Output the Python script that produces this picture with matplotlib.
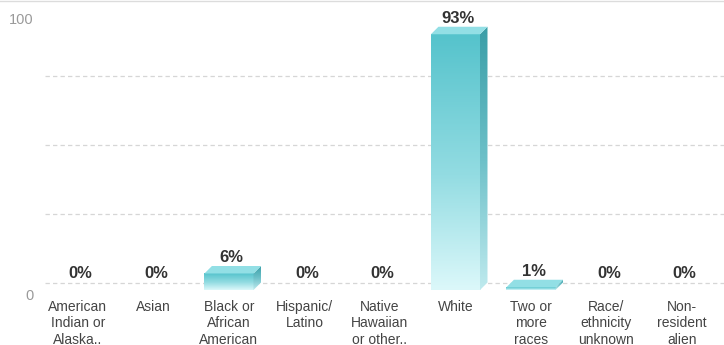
import numpy as np
import matplotlib
matplotlib.use("Agg")
import matplotlib.pyplot as plt
from matplotlib.colors import LinearSegmentedColormap
from matplotlib.patches import Polygon
from matplotlib.lines import Line2D
from matplotlib.transforms import offset_copy, ScaledTranslation

# ---- data ----
categories = [
    "American\nIndian or\nAlaska..",
    "Asian",
    "Black or\nAfrican\nAmerican",
    "Hispanic/\nLatino",
    "Native\nHawaiian\nor other..",
    "White",
    "Two or\nmore\nraces",
    "Race/\nethnicity\nunknown",
    "Non-\nresident\nalien",
]
values = [0, 0, 6, 0, 0, 93, 1, 0, 0]
value_labels = [f"{v}%" for v in values]
y_ticks = [0, 100]
grid_levels = [0, 25, 50, 75]

# ---- style ----
DPI = 100
W, H = 724, 345
DEPTH = 7.5            # 3D depth of the bars, in pixels
BAR_W = 0.65
FRONT = LinearSegmentedColormap.from_list(
    "front", [(0, "#dcf8fa"), (0.45, "#93dce2"), (1, "#55c3cc")])
SIDE = LinearSegmentedColormap.from_list(
    "side", [(0, "#bfeaee"), (0.5, "#6cc0c8"), (1, "#3a9ea7")])
TOP_COLOR = "#92dfe5"
font = ["Liberation Sans", "DejaVu Sans"]
plt.rcParams["font.family"] = font

fig = plt.figure(figsize=(W / DPI, H / DPI), dpi=DPI)
fig.patch.set_facecolor("white")
ax = fig.add_axes([37.5 / W, 55 / H, 686.5 / W, 275 / H])
xlim = (-0.536, 8.557)
ylim = (0, 100)
ax.set_xlim(*xlim)
ax.set_ylim(*ylim)
for s in ax.spines.values():
    s.set_visible(False)

# depth expressed in data units
p0 = ax.transData.transform((0, 0))
ddx, ddy = ax.transData.inverted().transform(p0 + np.array([DEPTH, DEPTH]))

# dashed gridlines on the back wall
back = offset_copy(ax.transData, fig=fig, x=DEPTH, y=DEPTH, units="dots")
for g in grid_levels:
    ax.plot(xlim, [g, g], transform=back, color="#d6d6d6", lw=0.9,
            dashes=(3.5, 2.5), clip_on=False, zorder=1)

grad = np.linspace(0, 1, 256).reshape(-1, 1)
for i, v in enumerate(values):
    x0, x1 = i - BAR_W / 2, i + BAR_W / 2
    if v > 0:
        # front face with vertical gradient
        ax.imshow(grad, cmap=FRONT, origin="lower", aspect="auto",
                  extent=(x0, x1, 0, v), zorder=3, interpolation="bilinear")
        # side face
        side = Polygon([(x1, 0), (x1 + ddx, ddy), (x1 + ddx, v + ddy), (x1, v)],
                       closed=True, facecolor="none", edgecolor="none")
        ax.add_patch(side)
        im = ax.imshow(grad, cmap=SIDE, origin="lower", aspect="auto",
                       extent=(x1, x1 + ddx, 0, v + ddy), zorder=3,
                       interpolation="bilinear")
        im.set_clip_path(side)
        # top face
        ax.add_patch(Polygon([(x0, v), (x1, v), (x1 + ddx, v + ddy), (x0 + ddx, v + ddy)],
                             closed=True, facecolor=TOP_COLOR, edgecolor="none", zorder=4))
    ax.annotate(value_labels[i], xy=(i, v), xytext=(DEPTH / 2 - 1, DEPTH + 1),
                textcoords="offset pixels", ha="center", va="bottom",
                fontsize=12, fontweight="bold", color="#333333", zorder=5)

ax.set_xlim(*xlim)
ax.set_ylim(*ylim)

ax.set_xticks(range(len(categories)))
ax.set_xticklabels(categories, fontsize=10, color="#444444", linespacing=1.25)
ax.tick_params(axis="x", length=0, pad=7)
ax.set_yticks(y_ticks)
ax.set_yticklabels([str(t) for t in y_ticks], fontsize=10.5, color="#9a9a9a")
ax.tick_params(axis="y", length=0, pad=3)
shift = ScaledTranslation(0, -4 / DPI, fig.dpi_scale_trans)
for lbl in ax.get_yticklabels():
    lbl.set_transform(lbl.get_transform() + shift)

# thin rule along the top edge
fig.add_artist(Line2D([0, 1], [1 - 0.5 / H, 1 - 0.5 / H], transform=fig.transFigure,
                      color="#dcdcdc", lw=1))

fig.savefig("out.png", dpi=DPI, facecolor="white")
